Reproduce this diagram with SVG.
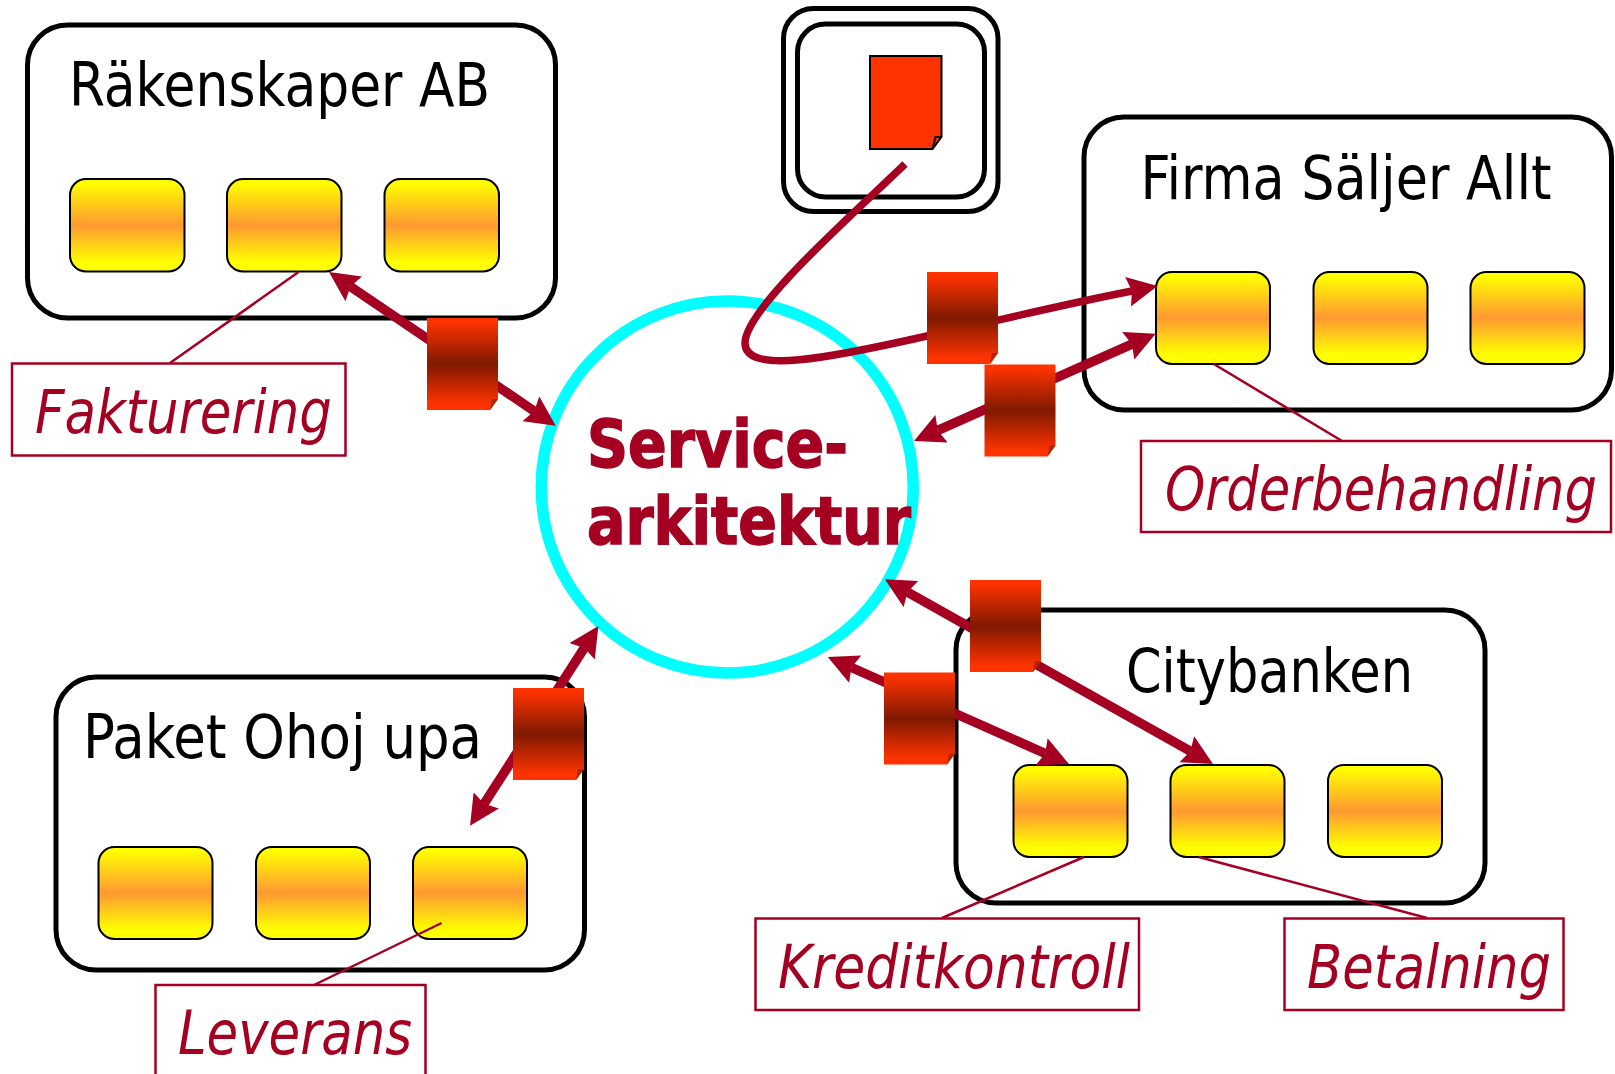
<svg xmlns="http://www.w3.org/2000/svg" width="1615" height="1074" viewBox="0 0 1615 1074">
<style>
.org{fill:#fff;stroke:#000;stroke-width:5}
.svc{fill:url(#g1);stroke:#000;stroke-width:2}
.doc{fill:url(#g2)}
.fold{fill:#b02600}
.lbl{fill:#fff;stroke:#a50021;stroke-width:2.500}
.ln{stroke:#a50021;stroke-width:2.500;fill:none}
.ar{stroke:#a50021;stroke-width:9.500;fill:none;marker-start:url(#ah);marker-end:url(#ah)}
.t{font-family:"DejaVu Sans",sans-serif;font-stretch:condensed;font-size:60px;fill:#000}
.i{font-family:"DejaVu Sans",sans-serif;font-stretch:condensed;font-size:60px;font-style:italic;fill:#a50021}
.b{font-family:"DejaVu Sans",sans-serif;font-stretch:condensed;font-size:66px;font-weight:bold;fill:#a50021;stroke:#a50021;stroke-width:1.400}
</style>
<defs>
<linearGradient id="g1" x1="0" y1="0" x2="0" y2="1"><stop offset="0.04" stop-color="#ffff00"/><stop offset="0.5" stop-color="#ff9933"/><stop offset="0.9" stop-color="#ffff00"/></linearGradient>
<linearGradient id="g2" x1="0" y1="0" x2="0" y2="1"><stop offset="0.04" stop-color="#ff3300"/><stop offset="0.5" stop-color="#7f1900"/><stop offset="0.94" stop-color="#ff3300"/></linearGradient>
<marker id="ah" markerUnits="userSpaceOnUse" viewBox="0 0 30 30" markerWidth="30" markerHeight="30" refX="4" refY="15" orient="auto-start-reverse"><path d="M0,0L30,15L0,30L4,15z" fill="#a50021"/></marker>
<marker id="ae" markerUnits="userSpaceOnUse" viewBox="0 0 30 30" markerWidth="30" markerHeight="30" refX="4" refY="15" orient="auto"><path d="M0,0L30,15L0,30L4,15z" fill="#a50021"/></marker>
<g id="d"><path class="doc" d="M0,0H71V81L63,92H0z"/><path class="fold" d="M63,92L65,81H71z"/></g>
</defs>

<g id="hub"><circle cx="727.300" cy="487" r="186" fill="#fff" stroke="#00ffff" stroke-width="11.500"/></g>

<g id="org-rakenskaper"><rect class="org" x="27.500" y="25" width="528" height="293" rx="40"/>
<text class="t" x="69" y="106" textLength="421" lengthAdjust="spacingAndGlyphs">Räkenskaper AB</text>
<rect class="svc" x="70" y="179" width="114.500" height="92.500" rx="16"/><rect class="svc" x="227" y="179" width="114.500" height="92.500" rx="16"/><rect class="svc" x="384.500" y="179" width="114.500" height="92.500" rx="16"/></g>

<g id="org-firma"><rect class="org" x="1084" y="117" width="527.500" height="293" rx="40"/>
<text class="t" x="1140.500" y="198.500" textLength="411" lengthAdjust="spacingAndGlyphs">Firma Säljer Allt</text>
<rect class="svc" x="1156" y="272" width="114" height="92" rx="16"/><rect class="svc" x="1313.500" y="272" width="114" height="92" rx="16"/><rect class="svc" x="1470.500" y="272" width="114" height="92" rx="16"/></g>

<g id="org-city"><rect class="org" x="956" y="610" width="529" height="293" rx="40"/>
<text class="t" x="1126" y="692" textLength="287" lengthAdjust="spacingAndGlyphs">Citybanken</text>
<rect class="svc" x="1013.500" y="765" width="114" height="92" rx="16"/><rect class="svc" x="1170.500" y="765" width="114" height="92" rx="16"/><rect class="svc" x="1328" y="765" width="114" height="92" rx="16"/></g>

<g id="org-paket"><rect class="org" x="56" y="677" width="528.500" height="293" rx="40"/>
<text class="t" x="83" y="758" textLength="399" lengthAdjust="spacingAndGlyphs">Paket Ohoj upa</text>
<rect class="svc" x="98.500" y="847" width="114" height="92" rx="16"/><rect class="svc" x="256" y="847" width="114" height="92" rx="16"/><rect class="svc" x="413" y="847" width="114" height="92" rx="16"/></g>

<g id="registry"><rect class="org" x="783.500" y="8.500" width="214.500" height="203" rx="30"/><rect class="org" x="797.500" y="24" width="187" height="173" rx="28"/>
<path d="M870,56H941.500V137L932.500,149H870z" fill="#ff3300" stroke="#000" stroke-width="2"/><path d="M932.500,149L935.500,137H941.500" fill="none" stroke="#000" stroke-width="2"/></g>

<g id="title"><text class="b" x="587" y="467" textLength="261" lengthAdjust="spacingAndGlyphs">Service-</text><text class="b" x="587" y="544" textLength="324" lengthAdjust="spacingAndGlyphs">arkitektur</text></g>

<g id="connectors">
<path class="ln" d="M298.500,272L170,363M1213.800,364L1341.600,440.700M1084,857L942,918M1198.700,857L1427,918M441.600,923L314,985"/>
<path class="ar" d="M350.500,286.600L534.200,411.100"/>
<path class="ar" d="M937.800,430.400L1131.900,344.200"/>
<path class="ar" d="M907.500,592.100L1190.300,751.200"/>
<path class="ar" d="M851.500,667.500L1045.200,753.500"/>
<path class="ar" d="M584.300,647.900L484.100,803.800"/>
<path d="M905,164C860,208 745,308 745,343C745,375 830,358 927,336C1000,320 1070,303 1132,291" fill="none" stroke="#a50021" stroke-width="7.500" marker-end="url(#ae)"/>
</g>

<g id="msg1"><use href="#d" x="427" y="318"/></g>
<g id="msg2"><use href="#d" x="927" y="272"/></g>
<g id="msg3"><use href="#d" x="984.500" y="364.500"/></g>
<g id="msg4"><use href="#d" x="970" y="580"/></g>
<g id="msg5"><use href="#d" x="884" y="672.500"/></g>
<g id="msg6"><use href="#d" x="513" y="688"/></g>

<g id="label-fakturering"><rect class="lbl" x="12" y="363.500" width="333.500" height="92"/><text class="i" x="35" y="433" textLength="297" lengthAdjust="spacingAndGlyphs">Fakturering</text></g>
<g id="label-orderbehandling"><rect class="lbl" x="1141" y="441" width="470" height="91"/><text class="i" transform="translate(1165,510) scale(1,1.090)" style="font-size:55px" textLength="432" lengthAdjust="spacingAndGlyphs">Orderbehandling</text></g>
<g id="label-kreditkontroll"><rect class="lbl" x="755.500" y="918.500" width="383.500" height="91.500"/><text class="i" x="778" y="988" textLength="352" lengthAdjust="spacingAndGlyphs">Kreditkontroll</text></g>
<g id="label-betalning"><rect class="lbl" x="1284.500" y="918.500" width="279" height="91.500"/><text class="i" x="1307" y="988" textLength="244" lengthAdjust="spacingAndGlyphs">Betalning</text></g>
<g id="label-leverans"><rect class="lbl" x="155.500" y="985" width="270" height="95"/><text class="i" x="178" y="1054" textLength="234" lengthAdjust="spacingAndGlyphs">Leverans</text></g>
</svg>
